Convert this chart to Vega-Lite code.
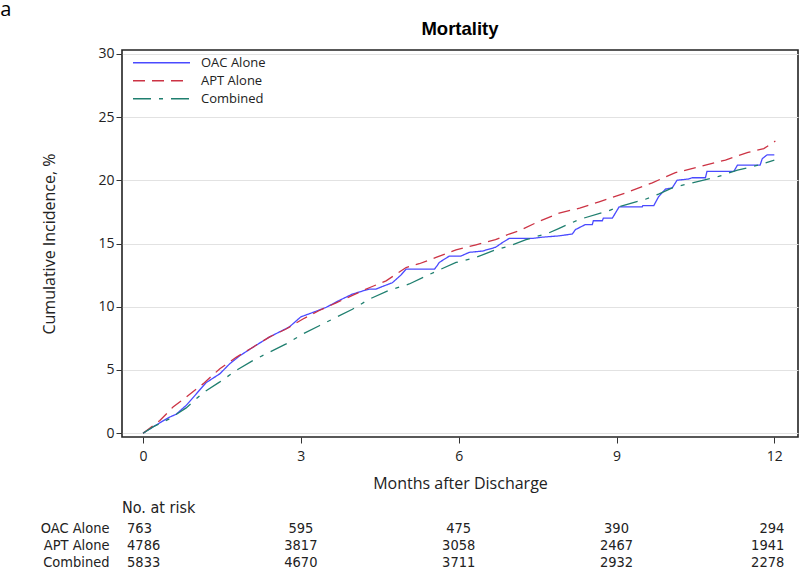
{
  "$schema": "https://vega.github.io/schema/vega-lite/v6.json",
  "padding": {"left": 0, "top": 0, "right": 0, "bottom": 0},
  "title": {"text": "a", "anchor": "start", "frame": "bounds", "fontSize": 20, "fontWeight": "normal", "font": "Open Sans", "color": "#000", "offset": -1, "dx": -40},
  "config": {
    "font": "Open Sans",
    "view": {"stroke": "#222", "strokeWidth": 1.6},
    "axis": {"labelFont": "Open Sans", "titleFont": "Open Sans", "labelFontSize": 14, "titleFontSize": 16, "titleFontWeight": "normal", "labelColor": "#222", "titleColor": "#222", "tickColor": "#333", "domain": false, "tickSize": 6, "labelPadding": 2}
  },
  "spacing": 8,
  "datasets": {
    "curves": [
      {"group": "OAC Alone", "month": 0, "incidence": 0},
      {"group": "OAC Alone", "month": 0.19, "incidence": 0.5},
      {"group": "OAC Alone", "month": 0.35, "incidence": 0.9},
      {"group": "OAC Alone", "month": 0.51, "incidence": 1.28},
      {"group": "OAC Alone", "month": 0.63, "incidence": 1.5},
      {"group": "OAC Alone", "month": 0.82, "incidence": 2.2},
      {"group": "OAC Alone", "month": 1.01, "incidence": 3.1},
      {"group": "OAC Alone", "month": 1.2, "incidence": 4.0},
      {"group": "OAC Alone", "month": 1.46, "incidence": 4.7},
      {"group": "OAC Alone", "month": 1.65, "incidence": 5.5},
      {"group": "OAC Alone", "month": 1.83, "incidence": 6.1},
      {"group": "OAC Alone", "month": 2.09, "incidence": 6.8},
      {"group": "OAC Alone", "month": 2.4, "incidence": 7.6},
      {"group": "OAC Alone", "month": 2.78, "incidence": 8.4},
      {"group": "OAC Alone", "month": 3.0, "incidence": 9.2},
      {"group": "OAC Alone", "month": 3.23, "incidence": 9.55},
      {"group": "OAC Alone", "month": 3.48, "incidence": 9.95},
      {"group": "OAC Alone", "month": 3.73, "incidence": 10.5},
      {"group": "OAC Alone", "month": 3.98, "incidence": 11.0},
      {"group": "OAC Alone", "month": 4.3, "incidence": 11.4},
      {"group": "OAC Alone", "month": 4.43, "incidence": 11.4},
      {"group": "OAC Alone", "month": 4.55, "incidence": 11.6},
      {"group": "OAC Alone", "month": 4.74, "incidence": 11.9},
      {"group": "OAC Alone", "month": 4.9, "incidence": 12.5},
      {"group": "OAC Alone", "month": 5.0, "incidence": 12.97},
      {"group": "OAC Alone", "month": 5.54, "incidence": 12.97},
      {"group": "OAC Alone", "month": 5.6, "incidence": 13.3},
      {"group": "OAC Alone", "month": 5.63, "incidence": 13.5},
      {"group": "OAC Alone", "month": 5.82, "incidence": 14.0},
      {"group": "OAC Alone", "month": 6.04, "incidence": 14.0},
      {"group": "OAC Alone", "month": 6.2, "incidence": 14.3},
      {"group": "OAC Alone", "month": 6.45, "incidence": 14.4},
      {"group": "OAC Alone", "month": 6.7, "incidence": 14.7},
      {"group": "OAC Alone", "month": 6.83, "incidence": 15.07},
      {"group": "OAC Alone", "month": 6.96, "incidence": 15.4},
      {"group": "OAC Alone", "month": 7.4, "incidence": 15.4},
      {"group": "OAC Alone", "month": 7.59, "incidence": 15.5},
      {"group": "OAC Alone", "month": 7.9, "incidence": 15.6},
      {"group": "OAC Alone", "month": 8.16, "incidence": 15.75},
      {"group": "OAC Alone", "month": 8.22, "incidence": 16.1},
      {"group": "OAC Alone", "month": 8.41, "incidence": 16.5},
      {"group": "OAC Alone", "month": 8.54, "incidence": 16.5},
      {"group": "OAC Alone", "month": 8.56, "incidence": 16.8},
      {"group": "OAC Alone", "month": 8.73, "incidence": 16.8},
      {"group": "OAC Alone", "month": 8.75, "incidence": 17.0},
      {"group": "OAC Alone", "month": 8.92, "incidence": 17.0},
      {"group": "OAC Alone", "month": 9.05, "incidence": 17.9},
      {"group": "OAC Alone", "month": 9.49, "incidence": 17.9},
      {"group": "OAC Alone", "month": 9.5, "incidence": 18.0},
      {"group": "OAC Alone", "month": 9.71, "incidence": 18.0},
      {"group": "OAC Alone", "month": 9.8, "incidence": 18.7},
      {"group": "OAC Alone", "month": 9.93, "incidence": 19.3},
      {"group": "OAC Alone", "month": 10.06, "incidence": 19.4},
      {"group": "OAC Alone", "month": 10.15, "incidence": 20.0},
      {"group": "OAC Alone", "month": 10.37, "incidence": 20.1},
      {"group": "OAC Alone", "month": 10.44, "incidence": 20.2},
      {"group": "OAC Alone", "month": 10.69, "incidence": 20.2},
      {"group": "OAC Alone", "month": 10.72, "incidence": 20.7},
      {"group": "OAC Alone", "month": 11.23, "incidence": 20.7},
      {"group": "OAC Alone", "month": 11.3, "incidence": 21.2},
      {"group": "OAC Alone", "month": 11.73, "incidence": 21.2},
      {"group": "OAC Alone", "month": 11.77, "incidence": 21.7},
      {"group": "OAC Alone", "month": 11.86, "incidence": 22.0},
      {"group": "OAC Alone", "month": 12.0, "incidence": 22.0},
      {"group": "APT Alone", "month": 0, "incidence": 0},
      {"group": "APT Alone", "month": 0.32, "incidence": 1.0},
      {"group": "APT Alone", "month": 0.57, "incidence": 2.07},
      {"group": "APT Alone", "month": 0.82, "incidence": 2.86},
      {"group": "APT Alone", "month": 1.14, "incidence": 3.9},
      {"group": "APT Alone", "month": 1.46, "incidence": 5.1},
      {"group": "APT Alone", "month": 1.77, "incidence": 6.0},
      {"group": "APT Alone", "month": 2.09, "incidence": 6.8},
      {"group": "APT Alone", "month": 2.4, "incidence": 7.6},
      {"group": "APT Alone", "month": 2.72, "incidence": 8.24},
      {"group": "APT Alone", "month": 3.04, "incidence": 9.03},
      {"group": "APT Alone", "month": 3.35, "incidence": 9.7},
      {"group": "APT Alone", "month": 3.67, "incidence": 10.3},
      {"group": "APT Alone", "month": 3.98, "incidence": 10.9},
      {"group": "APT Alone", "month": 4.3, "incidence": 11.5},
      {"group": "APT Alone", "month": 4.62, "incidence": 12.05},
      {"group": "APT Alone", "month": 5.0, "incidence": 13.1},
      {"group": "APT Alone", "month": 5.25, "incidence": 13.4},
      {"group": "APT Alone", "month": 5.57, "incidence": 13.9},
      {"group": "APT Alone", "month": 5.95, "incidence": 14.5},
      {"group": "APT Alone", "month": 6.33, "incidence": 14.9},
      {"group": "APT Alone", "month": 6.7, "incidence": 15.3},
      {"group": "APT Alone", "month": 6.96, "incidence": 15.75},
      {"group": "APT Alone", "month": 7.15, "incidence": 16.0},
      {"group": "APT Alone", "month": 7.5, "incidence": 16.7},
      {"group": "APT Alone", "month": 7.91, "incidence": 17.4},
      {"group": "APT Alone", "month": 8.3, "incidence": 17.8},
      {"group": "APT Alone", "month": 8.67, "incidence": 18.3},
      {"group": "APT Alone", "month": 9.17, "incidence": 19.0},
      {"group": "APT Alone", "month": 9.68, "incidence": 19.8},
      {"group": "APT Alone", "month": 10.12, "incidence": 20.6},
      {"group": "APT Alone", "month": 10.6, "incidence": 21.1},
      {"group": "APT Alone", "month": 11.07, "incidence": 21.6},
      {"group": "APT Alone", "month": 11.5, "incidence": 22.2},
      {"group": "APT Alone", "month": 11.8, "incidence": 22.5},
      {"group": "APT Alone", "month": 12.02, "incidence": 23.1},
      {"group": "Combined", "month": 0, "incidence": 0},
      {"group": "Combined", "month": 0.19, "incidence": 0.5},
      {"group": "Combined", "month": 0.51, "incidence": 1.15},
      {"group": "Combined", "month": 0.82, "incidence": 2.0},
      {"group": "Combined", "month": 1.14, "incidence": 3.2},
      {"group": "Combined", "month": 1.46, "incidence": 4.06},
      {"group": "Combined", "month": 1.77, "incidence": 4.96},
      {"group": "Combined", "month": 2.09, "incidence": 5.75},
      {"group": "Combined", "month": 2.4, "incidence": 6.4},
      {"group": "Combined", "month": 2.72, "incidence": 7.06},
      {"group": "Combined", "month": 3.04, "incidence": 7.85},
      {"group": "Combined", "month": 3.35, "incidence": 8.5},
      {"group": "Combined", "month": 3.67, "incidence": 9.16},
      {"group": "Combined", "month": 3.98, "incidence": 9.8},
      {"group": "Combined", "month": 4.3, "incidence": 10.6},
      {"group": "Combined", "month": 4.68, "incidence": 11.3},
      {"group": "Combined", "month": 5.06, "incidence": 11.8},
      {"group": "Combined", "month": 5.57, "incidence": 12.8},
      {"group": "Combined", "month": 5.95, "incidence": 13.5},
      {"group": "Combined", "month": 6.33, "incidence": 13.9},
      {"group": "Combined", "month": 6.7, "incidence": 14.5},
      {"group": "Combined", "month": 6.96, "incidence": 14.8},
      {"group": "Combined", "month": 7.28, "incidence": 15.3},
      {"group": "Combined", "month": 7.72, "incidence": 15.85},
      {"group": "Combined", "month": 7.91, "incidence": 16.2},
      {"group": "Combined", "month": 8.29, "incidence": 16.9},
      {"group": "Combined", "month": 8.86, "incidence": 17.6},
      {"group": "Combined", "month": 9.05, "incidence": 17.9},
      {"group": "Combined", "month": 9.55, "incidence": 18.5},
      {"group": "Combined", "month": 9.8, "incidence": 18.9},
      {"group": "Combined", "month": 10.06, "incidence": 19.4},
      {"group": "Combined", "month": 10.44, "incidence": 19.8},
      {"group": "Combined", "month": 10.94, "incidence": 20.3},
      {"group": "Combined", "month": 11.3, "incidence": 20.8},
      {"group": "Combined", "month": 11.7, "incidence": 21.2},
      {"group": "Combined", "month": 12.0, "incidence": 21.6}
    ],
    "risk": [
      {"group": "OAC Alone", "month": 0, "n": 763},
      {"group": "OAC Alone", "month": 3, "n": 595},
      {"group": "OAC Alone", "month": 6, "n": 475},
      {"group": "OAC Alone", "month": 9, "n": 390},
      {"group": "OAC Alone", "month": 12, "n": 294},
      {"group": "APT Alone", "month": 0, "n": 4786},
      {"group": "APT Alone", "month": 3, "n": 3817},
      {"group": "APT Alone", "month": 6, "n": 3058},
      {"group": "APT Alone", "month": 9, "n": 2467},
      {"group": "APT Alone", "month": 12, "n": 1941},
      {"group": "Combined", "month": 0, "n": 5833},
      {"group": "Combined", "month": 3, "n": 4670},
      {"group": "Combined", "month": 6, "n": 3711},
      {"group": "Combined", "month": 9, "n": 2932},
      {"group": "Combined", "month": 12, "n": 2278}
    ]
  },
  "vconcat": [
    {
      "width": 676,
      "height": 387,
      "title": {"text": "Mortality", "fontSize": 18.5, "fontWeight": "bold", "font": "Liberation Sans", "color": "#000", "offset": 8, "anchor": "middle"},
      "data": {"name": "curves"},
      "mark": {"type": "line", "strokeWidth": 1.3},
      "encoding": {
        "x": {"field": "month", "type": "quantitative", "scale": {"domain": [-0.4, 12.45], "nice": false, "zero": false},
              "axis": {"values": [0, 3, 6, 9, 12], "title": "Months after Discharge", "grid": false, "labelPadding": 6, "titlePadding": 12}},
        "y": {"field": "incidence", "type": "quantitative", "scale": {"domain": [-0.3, 30.3], "nice": false, "zero": false},
              "axis": {"values": [0, 5, 10, 15, 20, 25, 30], "title": "Cumulative Incidence, %", "grid": true, "gridColor": "#e2e2e2", "gridWidth": 1.2, "titlePadding": 40}},
        "color": {"field": "group", "type": "nominal",
                  "scale": {"domain": ["OAC Alone", "APT Alone", "Combined"], "range": ["#4a4aff", "#cc3344", "#1f7f6f"]},
                  "legend": {"orient": "none", "legendX": 10, "legendY": 4, "title": null, "symbolType": "stroke", "symbolSize": 3249, "symbolStrokeWidth": 1.3, "labelFontSize": 13, "labelFont": "Open Sans", "labelColor": "#222", "labelOffset": 10, "rowPadding": 0, "clipHeight": 17.5}},
        "strokeDash": {"field": "group", "type": "nominal",
                  "scale": {"domain": ["OAC Alone", "APT Alone", "Combined"], "range": [[1, 0], [12, 7], [18, 8, 4, 8]]},
                  "legend": {"orient": "none", "legendX": 10, "legendY": 4, "title": null, "symbolType": "stroke", "symbolSize": 3249, "symbolStrokeWidth": 1.3, "labelFontSize": 13, "labelFont": "Open Sans", "labelColor": "#222", "labelOffset": 10, "rowPadding": 0, "clipHeight": 17.5}}
      }
    },
    {
      "width": 676,
      "height": 51,
      "view": {"stroke": null},
      "title": {"text": "No. at risk", "anchor": "start", "frame": "group", "fontSize": 16, "fontWeight": "normal", "font": "Liberation Sans Narrow, DejaVu Sans Condensed, Liberation Sans", "color": "#222", "offset": 4},
      "data": {"name": "risk"},
      "encoding": {
        "x": {"field": "month", "type": "quantitative", "scale": {"domain": [-0.4, 12.45], "nice": false, "zero": false}, "axis": null},
        "y": {"field": "group", "type": "nominal", "sort": ["OAC Alone", "APT Alone", "Combined"], "scale": {"paddingInner": 0, "paddingOuter": 0},
              "axis": {"title": null, "ticks": false, "domain": false, "labelPadding": 13, "labelFontSize": 14.5, "labelFont": "Liberation Sans Narrow, DejaVu Sans Condensed, Liberation Sans", "labelColor": "#222"}},
        "text": {"field": "n", "type": "quantitative", "format": "d"}
      },
      "layer": [
        {"transform": [{"filter": "datum.month == 0"}], "mark": {"type": "text", "align": "left", "dx": -16, "fontSize": 14.5, "font": "Liberation Sans Narrow, DejaVu Sans Condensed, Liberation Sans", "color": "#222"}},
        {"transform": [{"filter": "datum.month > 0 && datum.month < 12"}], "mark": {"type": "text", "align": "center", "fontSize": 14.5, "font": "Liberation Sans Narrow, DejaVu Sans Condensed, Liberation Sans", "color": "#222"}},
        {"transform": [{"filter": "datum.month == 12"}], "mark": {"type": "text", "align": "right", "dx": 10, "fontSize": 14.5, "font": "Liberation Sans Narrow, DejaVu Sans Condensed, Liberation Sans", "color": "#222"}}
      ]
    }
  ]
}
